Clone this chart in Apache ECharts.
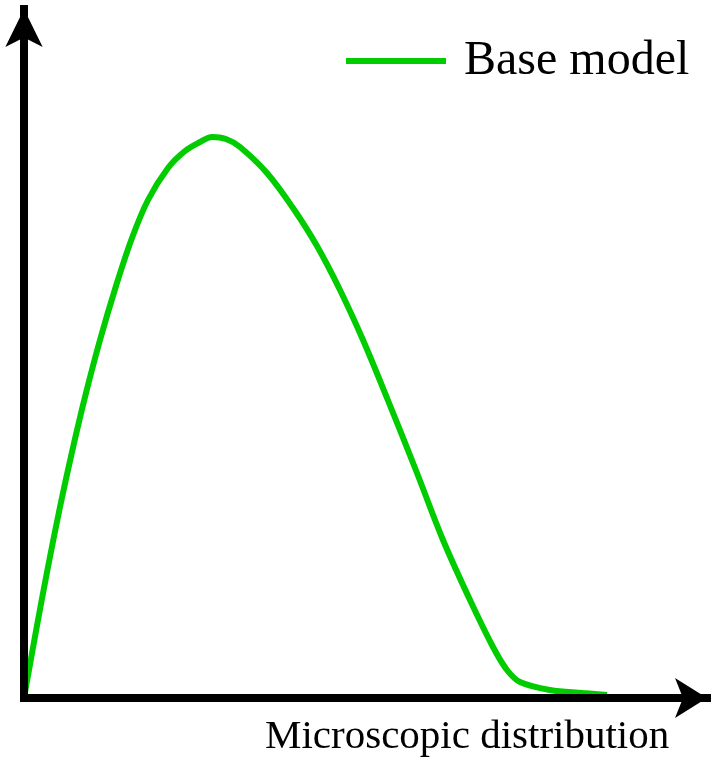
<!DOCTYPE html>
<html>
<head>
<meta charset="utf-8">
<script src="https://cdn.jsdelivr.net/npm/echarts@6/dist/echarts.min.js"></script>
<style>
html,body{margin:0;padding:0;background:#fff;}
#chart{width:712px;height:762px;}
</style>
</head>
<body>
<div id="chart"></div>
<script>
// Curve samples (x, y in axis units)
const xValues = [0, 12, 24, 36, 48, 61, 76, 92, 108, 124, 144, 161, 176, 188, 202, 216, 243, 269, 293, 316, 339, 363, 393, 419, 446, 469, 483, 496, 526, 559, 583];
const yValues = [0, 67, 131, 191, 246, 301, 358, 412, 460, 498, 530, 547, 556, 561, 559, 551, 525, 490, 452, 408, 358, 300, 225, 158, 98, 51, 28, 16, 8, 5, 3];
const seriesName = 'Base model';
const xAxisLabel = 'Microscopic distribution';

const chart = echarts.init(document.getElementById('chart'), null, {renderer: 'canvas'});
const FONT = '"Liberation Serif", "DejaVu Serif", serif';
const GREEN = '#00cc00';

chart.setOption({
  animation: false,
  backgroundColor: '#ffffff',
  grid: {left: 24, right: 5, top: 9, bottom: 64, containLabel: false},
  title: {
    text: xAxisLabel,
    left: 265, top: 717,
    padding: 0,
    textStyle: {fontFamily: FONT, fontSize: 41, fontWeight: 'normal', color: '#000'}
  },
  legend: {
    left: 346, top: 37,
    padding: 0,
    icon: 'rect',
    itemWidth: 100, itemHeight: 6,
    textStyle: {fontFamily: FONT, fontSize: 48, color: '#000', padding: [0, 0, 0, 13]},
    data: [seriesName]
  },
  xAxis: {
    type: 'value', min: 0, max: 683, z: 5,
    axisLine: {show: true, onZero: false, symbol: ['none', 'arrow'], symbolSize: [30, 32],
      lineStyle: {color: '#000', width: 8, cap: 'square'}},
    axisTick: {show: false}, axisLabel: {show: false}, splitLine: {show: false}
  },
  yAxis: {
    type: 'value', min: 0, max: 689, z: 5,
    axisLine: {show: true, onZero: false, symbol: ['none', 'arrow'], symbolSize: [28, 38],
      lineStyle: {color: '#000', width: 8, cap: 'square'}},
    axisTick: {show: false}, axisLabel: {show: false}, splitLine: {show: false}
  },
  series: [{
    name: seriesName,
    type: 'line',
    smooth: 0.35,
    symbol: 'none',
    lineStyle: {color: GREEN, width: 6},
    itemStyle: {color: GREEN},
    data: xValues.map((x, i) => [x, yValues[i]])
  }]
});
</script>
</body>
</html>
